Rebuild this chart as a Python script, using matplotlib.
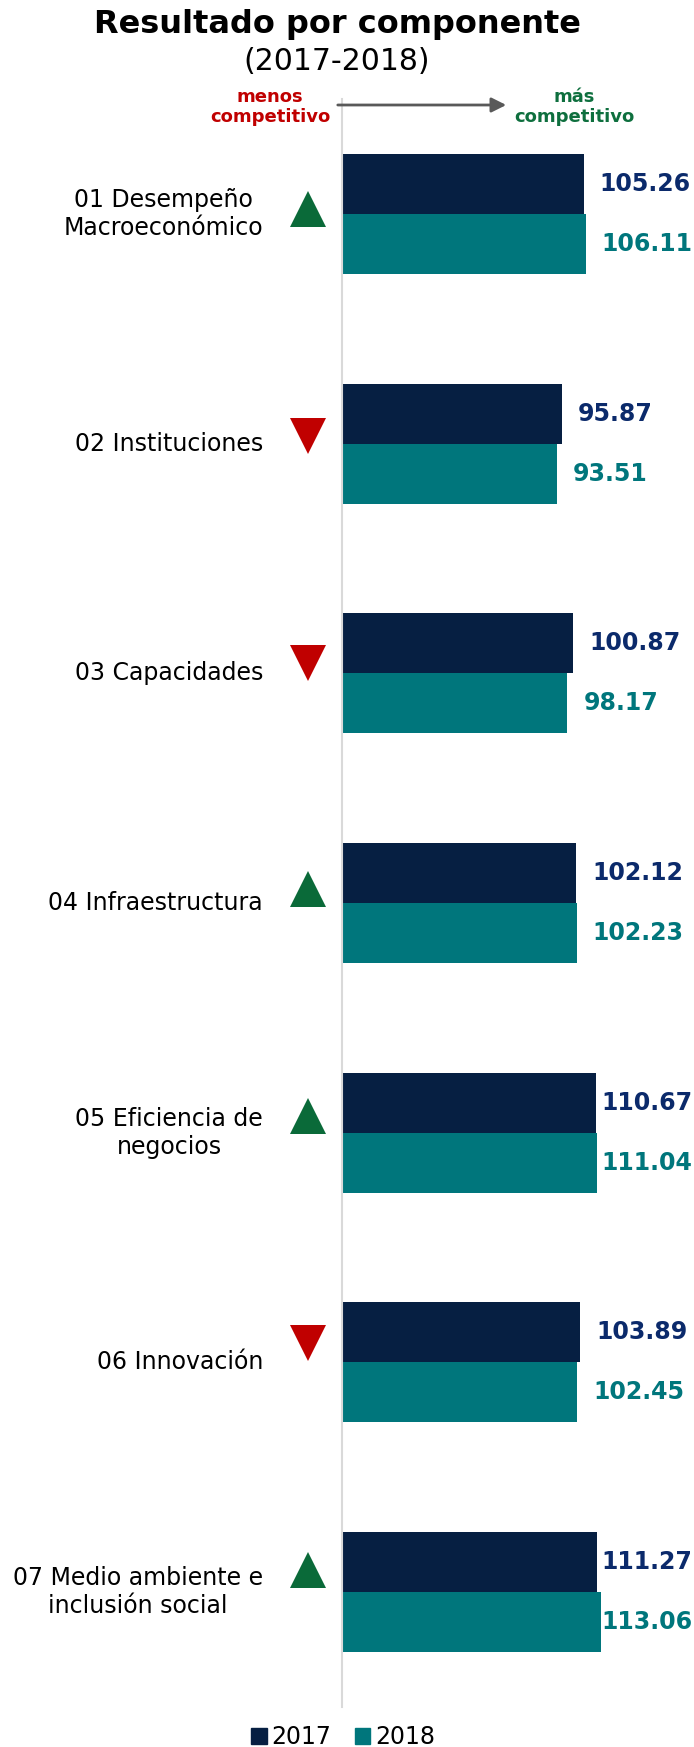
import numpy as np
import matplotlib
matplotlib.use("Agg")
import matplotlib.pyplot as plt
from matplotlib.patches import Patch, FancyArrowPatch

# data
componentes = ["01 Desempeño\nMacroeconómico", "02 Instituciones", "03 Capacidades",
               "04 Infraestructura", "05 Eficiencia de\nnegocios", "06 Innovación",
               "07 Medio ambiente e\ninclusión social"]
valores_2017 = [105.26, 95.87, 100.87, 102.12, 110.67, 103.89, 111.27]
valores_2018 = [106.11, 93.51, 98.17, 102.23, 111.04, 102.45, 113.06]
tendencia = ["up", "down", "down", "up", "up", "down", "up"]

c2017 = "#061f42"
c2018 = "#00767c"
lbl2017 = "#0b2a6b"
lbl2018 = "#00767c"
verde = "#0a6a39"
rojo = "#c00000"

W, H = 694, 1747
fig = plt.figure(figsize=(W / 100, H / 100), dpi=100)
plt.rcParams['font.family'] = ['DejaVu Sans']


def fx(px):
    return px / W


def fy(px):
    return 1 - px / H


# axes placed in pixels: value 0 at x=342, category centres every ~230 px
ax = fig.add_axes([fx(342), fy(1707), fx(694) - fx(342), (1707 - 99) / H])
ax.set_xlim(0, (694 - 342) / 2.295)
ax.set_ylim(6.5, -0.5)

pos = np.arange(len(componentes))
h = 0.261
ax.barh(pos - h / 2, valores_2017, height=h, color=c2017, label="2017")
ax.barh(pos + h / 2, valores_2018, height=h, color=c2018, label="2018")

# value labels, kept inside the right edge
for y, v in zip(pos - h / 2, valores_2017):
    ax.text(min(v + 7, 113), y, f"{v:.2f}", color=lbl2017, fontsize=17,
            fontweight="bold", va="center", ha="left", clip_on=False)
for y, v in zip(pos + h / 2, valores_2018):
    ax.text(min(v + 7, 113), y, f"{v:.2f}", color=lbl2018, fontsize=17,
            fontweight="bold", va="center", ha="left", clip_on=False)

# category names
for i, name in enumerate(componentes):
    ax.text((263 - 342) / 2.295, i, name, fontsize=17, ha="right", va="center",
            multialignment="center", color="black", clip_on=False)

# trend triangles
for i, t in enumerate(tendencia):
    yy = i - (5 + 2.85 * i) / 229.7
    ax.plot((307.5 - 342) / 2.295, yy, marker="^" if t == "up" else "v",
            markersize=26.6, color=verde if t == "up" else rojo,
            markeredgewidth=0, clip_on=False)

for s in ["top", "right", "bottom"]:
    ax.spines[s].set_visible(False)
ax.spines["left"].set_color("#d9d9d9")
ax.spines["left"].set_linewidth(1.5)
ax.set_xticks([])
ax.set_yticks([])

# titles
fig.text(fx(337), fy(25), "Resultado por componente", fontsize=23,
         fontweight="bold", ha="center", va="center")
fig.text(fx(337), fy(62), "(2017-2018)", fontsize=21.5, ha="center", va="center")

fig.text(fx(270), fy(107), "menos\ncompetitivo", fontsize=13, fontweight="bold",
         color=rojo, ha="center", va="center", linespacing=1.1)
fig.text(fx(574), fy(107), "más\ncompetitivo", fontsize=13, fontweight="bold",
         color="#0e6f3e", ha="center", va="center", linespacing=1.1)
arrow = FancyArrowPatch((fx(335), fy(105)), (fx(509), fy(105)),
                        transform=fig.transFigure, arrowstyle="-|>",
                        mutation_scale=22, color="#595959", linewidth=2)
fig.patches.append(arrow)

handles = [Patch(color=c2017, label="2017"), Patch(color=c2018, label="2018")]
fig.legend(handles=handles, loc="center", bbox_to_anchor=(fx(343), fy(1737)),
           ncol=2, frameon=False, fontsize=17, handlelength=0.65,
           handleheight=0.65, handletextpad=0.2, columnspacing=1.0)

fig.savefig("out.png", dpi=100)
